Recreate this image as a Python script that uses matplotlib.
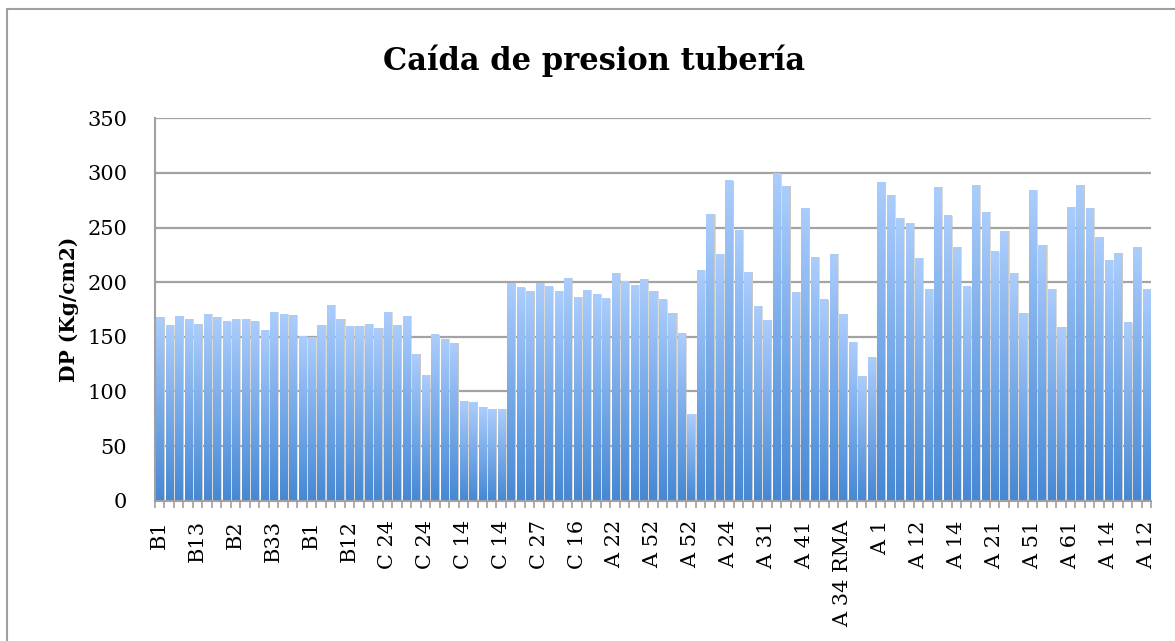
import numpy as np
import matplotlib.pyplot as plt
from matplotlib.colors import LinearSegmentedColormap
from matplotlib.patches import Rectangle

# tick labels (one every 4 bars)
labels = ['B1', 'B13', 'B2', 'B33', 'B1', 'B12', 'C 24', 'C 24', 'C 14', 'C 14',
          'C 27', 'C 16', 'A 22', 'A 52', 'A 52', 'A 24', 'A 31', 'A 41',
          'A 34 RMA', 'A 1', 'A 12', 'A 14', 'A 21', 'A 51', 'A 61', 'A 14', 'A 12']
label_step = 4

# pressure drop (Kg/cm2)
values = [168, 161, 169, 166, 162, 171, 168, 164, 166, 166,
          164, 156, 173, 171, 170, 151, 150, 161, 179, 166,
          160, 160, 162, 158, 173, 161, 169, 134, 115, 152,
          148, 144, 91, 90, 86, 84, 84, 199, 195, 192,
          199, 196, 192, 204, 186, 193, 189, 185, 208, 201,
          197, 203, 192, 184, 172, 153, 79, 211, 262, 226,
          293, 248, 209, 178, 165, 300, 288, 191, 268, 223,
          184, 226, 171, 145, 114, 131, 292, 280, 259, 254,
          222, 194, 287, 261, 232, 196, 289, 264, 228, 247,
          208, 172, 284, 234, 194, 159, 269, 289, 268, 241,
          220, 227, 163, 232, 194]

font = 'DejaVu Serif'
fig = plt.figure(figsize=(11.75, 6.41), dpi=100)
ax = fig.add_axes([0.1319, 0.2189, 0.8477, 0.5965])

x = np.arange(len(values))

# soft shadow behind bars
ax.bar(x + 0.22, values, width=0.74, color='#bdbdbd', alpha=0.55, zorder=1)
ax.bar(x + 0.14, values, width=0.74, color='#c8c8c8', zorder=1.5)

# bars with vertical gradient
bars = ax.bar(x, values, width=0.74, color='none', zorder=2)
cmap = LinearSegmentedColormap.from_list('blue', ['#4688d4', '#abcdfc'])
grad = np.linspace(1, 0, 200).reshape(-1, 1)
for b in bars:
    ax.imshow(grad, cmap=cmap, vmin=0, vmax=1, aspect='auto', zorder=2,
              extent=[b.get_x(), b.get_x() + b.get_width(), 0, b.get_height()])

ax.set_xlim(-0.5, len(values) - 0.5)
ax.set_ylim(0, 350)
ax.set_yticks(np.arange(0, 351, 50))
ax.yaxis.grid(True, color='#a3a3a3', lw=1.6, zorder=0)
ax.set_axisbelow(True)

ax.set_xticks(np.arange(0, len(values), label_step))
ax.set_xticklabels(labels, rotation=90, fontsize=15, family=font)
ax.set_xticks(np.arange(len(values) + 1) - 0.5, minor=True)
ax.tick_params(axis='x', which='major', length=0, pad=14)
ax.tick_params(axis='x', which='minor', length=5, color='#a0a0a0', width=1.2)
ax.tick_params(axis='y', length=0, pad=20, labelsize=15)
for t in ax.get_yticklabels():
    t.set_family(font)

for s in ['top', 'right']:
    ax.spines[s].set_visible(False)
for s in ['left', 'bottom']:
    ax.spines[s].set_color('#a0a0a0')
    ax.spines[s].set_linewidth(1.5)

ax.set_ylabel('DP (Kg/cm2)', fontsize=14.5, fontweight='bold', family=font, labelpad=6)
fig.text(0.506, 0.905, 'Caída de presion tubería', ha='center', va='center',
         fontsize=22, fontweight='bold', family=font)

# outer chart frame
fig.patches.append(Rectangle((0.006, -0.05), 1.1, 1.036, transform=fig.transFigure,
                             fill=False, edgecolor='#a0a0a0', lw=1.5))

fig.savefig('out.png', dpi=100)
